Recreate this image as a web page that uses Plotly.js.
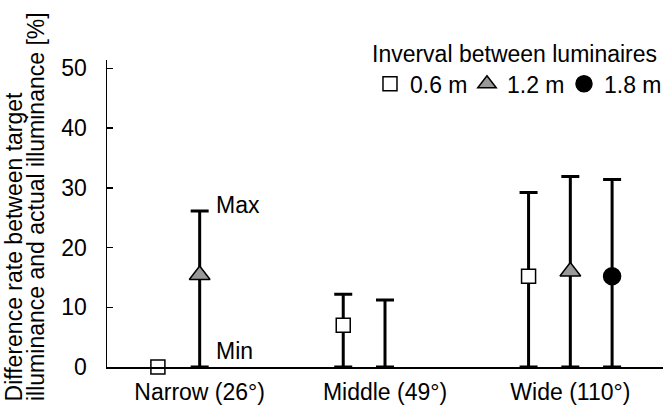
<!DOCTYPE html>
<html>
<head>
<meta charset="utf-8">
<script src="https://cdn.plot.ly/plotly-3.0.1.min.js"></script>
<style>html,body{margin:0;padding:0;background:#fff;}#chart{width:666px;height:405px;}</style>
</head>
<body>
<div id="chart"></div>
<script>
// Categories (beam angle)
const categories = ['Narrow (26°)', 'Middle (49°)', 'Wide (110°)'];
// Series names (interval between luminaires)
const seriesNames = ['0.6 m', '1.2 m', '1.8 m'];
// Mean difference rate [%]
const mean06 = [0, 7.0, 15.2];
const mean12 = [15.4, null, 16.0];
const mean18 = [null, null, 15.2];
// Minimum difference rate [%]
const min06 = [null, 0, 0];
const min12 = [0, 0, 0];
const min18 = [null, null, 0];
// Maximum difference rate [%]
const max06 = [null, 12.2, 29.2];
const max12 = [26.1, 11.2, 31.9];
const max18 = [null, null, 31.4];
// Y axis ticks
const yTicks = [0, 10, 20, 30, 40, 50];
// Y axis title lines
const yTitleLines = ['Difference rate between target', 'illuminance and actual illuminance [%]'];

const FONT = '"Liberation Sans", Arial, sans-serif';
const FS = 23;

const means = [mean06, mean12, mean18];
const mins = [min06, min12, min18];
const maxs = [max06, max12, max18];
const symbols = ['square', 'triangle-up', 'circle'];
const fills = ['#ffffff', '#999999', '#000000'];
const sizes = [14, 18, 17];

const traces = [];
// range (min-max) error bars
for (let s = 0; s < 3; s++) {
  traces.push({
    type: 'scatter', mode: 'markers',
    x: categories, y: mins[s],
    offsetgroup: 'g' + s,
    showlegend: false, hoverinfo: 'skip',
    marker: {size: 1, opacity: 0},
    cliponaxis: false,
    error_y: {
      type: 'data', symmetric: false,
      array: maxs[s].map((v, i) => (v === null || mins[s][i] === null) ? null : v - mins[s][i]),
      arrayminus: mins[s].map(v => v === null ? null : 0),
      color: '#000', thickness: 3, width: 9
    }
  });
}
// mean markers
for (let s = 0; s < 3; s++) {
  traces.push({
    type: 'scatter', mode: 'markers',
    name: seriesNames[s],
    x: categories, y: means[s],
    offsetgroup: 'g' + s,
    cliponaxis: false,
    marker: {symbol: symbols[s], size: sizes[s], color: fills[s], line: {color: '#000', width: 1.5}}
  });
}

const txtFont = {family: FONT, size: FS, color: '#000'};

const layout = {
  width: 666, height: 405,
  margin: {l: 107, r: 3, t: 60, b: 38, autoexpand: false},
  paper_bgcolor: '#fff', plot_bgcolor: '#fff',
  font: txtFont,
  showlegend: true,
  scattermode: 'group',
  scattergap: 0.324,
  xaxis: {
    type: 'category',
    showline: true, linecolor: '#000', linewidth: 1.5,
    ticks: '', showgrid: false, zeroline: false,
    ticklabelstandoff: 4,
    tickfont: txtFont
  },
  yaxis: {
    range: [0, 51.4],
    tickvals: yTicks,
    showline: true, linecolor: '#000', linewidth: 1.5,
    ticks: 'inside', ticklen: 6, tickwidth: 1.5, tickcolor: '#000',
    ticklabelstandoff: 14,
    showgrid: false, zeroline: false,
    tickfont: txtFont
  },
  legend: {
    orientation: 'h',
    x: 0.473, xanchor: 'left',
    y: 1.09, yanchor: 'top',
    bgcolor: 'rgba(0,0,0,0)',
    font: txtFont,
    title: {text: 'Inverval between luminaires', side: 'top', font: txtFont},
    itemwidth: 30,
    entrywidth: 52, entrywidthmode: 'pixels',
    traceorder: 'normal'
  },
  annotations: [
    {x: -0.1664, y: -0.114, xref: 'paper', yref: 'paper', text: yTitleLines[0], textangle: -90,
     showarrow: false, xanchor: 'center', yanchor: 'bottom', borderpad: 0, font: txtFont},
    {x: -0.1268, y: -0.114, xref: 'paper', yref: 'paper', text: yTitleLines[1], textangle: -90,
     showarrow: false, xanchor: 'center', yanchor: 'bottom', borderpad: 0, font: txtFont},
    {x: 0, y: 26.1, xref: 'x', yref: 'y', text: 'Max', showarrow: false,
     xanchor: 'left', yanchor: 'middle', xshift: 14, yshift: 6, font: txtFont},
    {x: 0, y: 0, xref: 'x', yref: 'y', text: 'Min', showarrow: false,
     xanchor: 'left', yanchor: 'bottom', xshift: 14, yshift: 1, font: txtFont}
  ]
};

Plotly.newPlot('chart', traces, layout, {displayModeBar: false, staticPlot: true});
</script>
</body>
</html>
